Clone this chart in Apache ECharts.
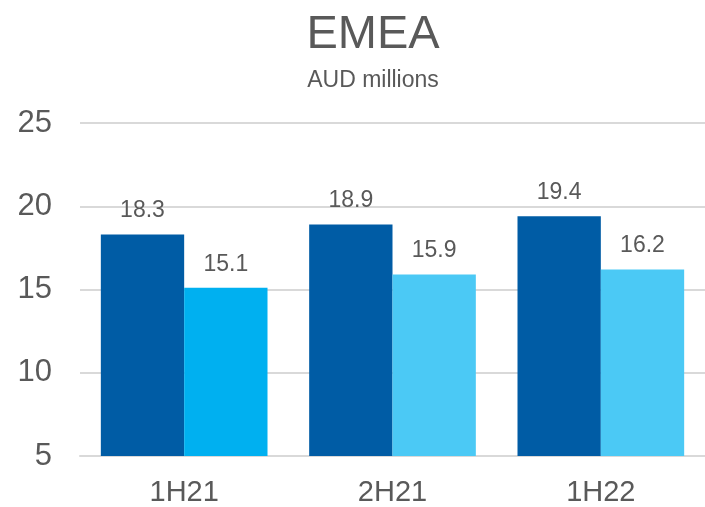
<!DOCTYPE html>
<html>
<head>
<meta charset="utf-8">
<script src="https://cdn.jsdelivr.net/npm/echarts@6/dist/echarts.min.js"></script>
<style>
  html, body { margin: 0; padding: 0; background: #fff; }
  #chart { width: 705px; height: 507px; }
</style>
</head>
<body>
<div id="chart"></div>
<script>
// Half-year periods and EMEA values (AUD millions)
const categories = ['1H21', '2H21', '1H22'];
const seriesA = [18.3, 18.9, 19.4];
const seriesB = [15.1, 15.9, 16.2];
const yTicks = [5, 10, 15, 20, 25];

const darkBlue = '#005CA5';
const lightBlues = ['#00B0F0', '#4BC9F5', '#4BC9F5'];
const textGrey = '#595959';
const gridGrey = '#D9D9D9';
const font = 'Liberation Sans, Arial, sans-serif';

const chart = echarts.init(document.getElementById('chart'), null, { renderer: 'canvas' });

const valueLabel = {
  show: true,
  position: 'top',
  distance: 12,
  color: textGrey,
  fontSize: 23,
  fontFamily: font
};

chart.setOption({
  animation: false,
  backgroundColor: '#ffffff',
  title: [
    {
      text: 'EMEA',
      left: 368,
      top: 7,
      textAlign: 'center',
      textStyle: { fontSize: 47, fontWeight: 'normal', color: textGrey, fontFamily: font }
    },
    {
      text: 'AUD millions',
      left: 368,
      top: 64,
      textAlign: 'center',
      textStyle: { fontSize: 23, fontWeight: 'normal', color: textGrey, fontFamily: font }
    }
  ],
  grid: { left: 80, right: 0, top: 123, bottom: 51, containLabel: false },
  xAxis: {
    type: 'category',
    data: categories,
    axisTick: { show: false },
    axisLine: { show: true, lineStyle: { color: gridGrey, width: 2 } },
    axisLabel: { color: textGrey, fontSize: 29, fontFamily: font, margin: 22 }
  },
  yAxis: {
    type: 'value',
    min: yTicks[0],
    max: yTicks[yTicks.length - 1],
    interval: 5,
    axisLine: { show: false },
    axisTick: { show: false },
    splitLine: { lineStyle: { color: gridGrey, width: 2 } },
    axisLabel: { color: textGrey, fontSize: 31, fontFamily: font, margin: 28 }
  },
  series: [
    {
      type: 'bar',
      data: seriesA,
      barGap: '0%',
      barCategoryGap: '20%',
      itemStyle: { color: darkBlue },
      label: valueLabel
    },
    {
      type: 'bar',
      data: seriesB.map((v, i) => ({ value: v, itemStyle: { color: lightBlues[i] } })),
      barGap: '0%',
      barCategoryGap: '20%',
      label: valueLabel
    }
  ]
});
</script>
</body>
</html>
